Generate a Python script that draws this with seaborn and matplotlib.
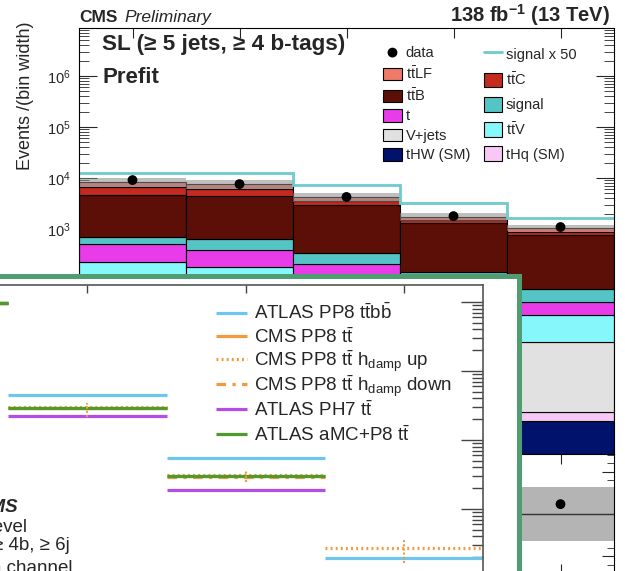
import numpy as np
import matplotlib
matplotlib.use("Agg")
import matplotlib.pyplot as plt
from matplotlib.ticker import MultipleLocator, LogLocator, NullFormatter
import seaborn as sns

# ---- CMS prefit stack, SL >= 5 jets, >= 4 b-tags (5 bins) ----
bin_edges = [0, 1, 2, 3, 4, 5]
tHW = [0.6, 0.6, 0.5, 0.3, 0.17]
tHq = [0.4, 0.4, 0.3, 0.2, 0.09]
vjets = [63, 59, 30, 13, 5.8]
ttV = [161, 120, 65, 30, 14.5]
single_t = [285, 207, 110, 40, 16.5]
signal = [187, 250, 132, 60, 29]
ttB = [3953, 3803, 2612, 1168, 694]
ttC = [2000, 1600, 650, 200, 100]
ttLF = [1800, 1500, 650, 230, 185]
data = [9100, 7600, 4250, 1790, 1094]
signal_x50 = [12300, 12600, 7300, 3240, 1660]
rel_unc = [0.2, 0.2, 0.2, 0.18, 0.13]

# ---- overlaid comparison panel (4 bins, log y) ----
in_edges = [0, 1, 2, 3, 4]
atlas_pp8_ttbb = [0.97, 0.0449, 0.00548, 0.000195]
cms_pp8_tt = [0.97, 0.0291, 0.0030, 7.0e-5]
cms_hdamp_up = [0.97, 0.0305, 0.00315, 0.000272]
cms_hdamp_down = [0.97, 0.0286, 0.00292, 6.6e-5]
atlas_ph7_tt = [0.97, 0.0223, 0.00188, 4.6e-5]
atlas_amc_tt = [0.97, 0.0291, 0.0030, 6.9e-5]
hdamp_up_err_lo = [0.0, 0.009, 0.00069, 0.000106]
hdamp_up_err_hi = [0.0, 0.004, 0.00052, 0.000109]

sns.set_theme(style="ticks")
plt.rcParams['font.family'] = ['Liberation Sans', 'DejaVu Sans']
plt.rcParams['mathtext.fontset'] = 'custom'
plt.rcParams['mathtext.rm'] = 'Liberation Sans'
plt.rcParams['mathtext.it'] = 'Liberation Sans:italic'
plt.rcParams['mathtext.bf'] = 'Liberation Sans:bold'

W, H = 625, 571
fig = plt.figure(figsize=(W / 100, H / 100), dpi=100)


def box(x0, y0, x1, y1):
    # pixel box (top-left origin) -> figure fraction rect
    return [x0 / W, 1 - y1 / H, (x1 - x0) / W, (y1 - y0) / H]


def fxy(x, y):
    return x / W, 1 - y / H


ax = fig.add_axes(box(79, 28, 614, 454))
rax = fig.add_axes(box(79, 454, 614, 574))

centers = np.arange(5) + 0.5
stack = [
    ("tHW (SM)", tHW, "#00126b"),
    ("tHq (SM)", tHq, "#f7c8f5"),
    ("V+jets", vjets, "#e1e1e1"),
    (r"$\mathrm{t\bar{t}V}$", ttV, "#86f7fa"),
    ("t", single_t, "#e83ce8"),
    ("signal", signal, "#55c4c4"),
    (r"$\mathrm{t\bar{t}B}$", ttB, "#5c0f06"),
    (r"$\mathrm{t\bar{t}C}$", ttC, "#c42a1e"),
    (r"$\mathrm{t\bar{t}LF}$", ttLF, "#ef7a6a"),
]
bottom = np.full(5, 1e-3)
hnd = {}
for name, vals, col in stack:
    vals = np.asarray(vals, float)
    hnd[name] = ax.bar(centers, vals, width=1.0, bottom=bottom, color=col,
                       edgecolor="black", linewidth=0.8)
    bottom = bottom + vals
total = bottom - 1e-3
unc = np.asarray(rel_unc)

ax.bar(centers, 2 * unc * total, bottom=total * (1 - unc), width=1.0,
       color="#8c8c8c", alpha=0.55, linewidth=0)
sig_h = ax.stairs(signal_x50, bin_edges, color="#6ccbcc", linewidth=2,
                  baseline=None, label="signal x 50")
ax.errorbar(centers, data, yerr=np.sqrt(data), fmt="none", ecolor="black", elinewidth=1)
sns.scatterplot(x=centers, y=data, ax=ax, color="black", s=50, edgecolor="none",
                zorder=5, legend=False)
data_h = ax.collections[-1]

ax.set_yscale("log")
ax.set_xlim(0, 5)
ax.set_ylim(0.039, 8.7e6)
ax.set_xticks(centers)
ax.set_xticklabels([])
ax.tick_params(axis="x", which="both", direction="in", top=True, bottom=True,
               length=7, width=0.8)
ax.yaxis.set_major_locator(LogLocator(base=10, numticks=20))
ax.yaxis.set_minor_locator(LogLocator(base=10, subs=np.arange(2, 10), numticks=20))
ax.yaxis.set_minor_formatter(NullFormatter())
ax.tick_params(axis="y", which="major", direction="in", left=True, right=True,
               length=13, width=0.8, labelsize=10.5, pad=6)
ax.tick_params(axis="y", which="minor", direction="in", left=True, right=True,
               length=7, width=0.6)
for s in ax.spines.values():
    s.set_color("black")
    s.set_linewidth(0.8)

leg1 = ax.legend(
    handles=[data_h, hnd[r"$\mathrm{t\bar{t}LF}$"], hnd[r"$\mathrm{t\bar{t}B}$"],
             hnd["t"], hnd["V+jets"], hnd["tHW (SM)"]],
    labels=["data", r"$\mathrm{t\bar{t}}$LF", r"$\mathrm{t\bar{t}}$B", "t",
            "V+jets", "tHW (SM)"],
    loc="upper left", bbox_to_anchor=fxy(383, 46), bbox_transform=fig.transFigure,
    frameon=False, fontsize=10.5, handlelength=1.3, handleheight=0.95,
    handletextpad=0.25, labelspacing=0.35, borderpad=0, borderaxespad=0)
ax.add_artist(leg1)
ax.legend(
    handles=[sig_h, hnd[r"$\mathrm{t\bar{t}C}$"], hnd["signal"],
             hnd[r"$\mathrm{t\bar{t}V}$"], hnd["tHq (SM)"]],
    labels=["signal x 50", r"$\mathrm{t\bar{t}}$C", "signal",
            r"$\mathrm{t\bar{t}}$V", "tHq (SM)"],
    loc="upper left", bbox_to_anchor=fxy(484, 47), bbox_transform=fig.transFigure,
    frameon=False, fontsize=10.5, handlelength=1.25, handleheight=1.2,
    handletextpad=0.25, labelspacing=0.6, borderpad=0, borderaxespad=0)

# ratio panel
ratio = np.asarray(data) / total
rax.bar(centers, 2 * unc, bottom=1 - unc, width=1.0, color="#b4b4b4", linewidth=0)
rax.axhline(1.0, color="#333333", linewidth=1)
sns.scatterplot(x=centers, y=ratio, ax=rax, color="black", s=50, edgecolor="none",
                zorder=5, legend=False)
rax.set_xlim(0, 5)
rax.set_ylim(0.715, 1.285)
rax.set_xticks(centers)
rax.set_xticklabels([])
rax.yaxis.set_major_locator(MultipleLocator(0.2))
rax.yaxis.set_minor_locator(MultipleLocator(0.04))
rax.tick_params(axis="x", direction="in", top=True, bottom=True, length=7, width=0.8)
rax.tick_params(axis="y", which="major", direction="in", left=True, right=True,
                length=9, width=0.8, labelsize=10)
rax.tick_params(axis="y", which="minor", direction="in", left=True, right=True,
                length=5, width=0.6)
for s in rax.spines.values():
    s.set_color("black")
    s.set_linewidth(0.8)

fig.text(*fxy(79, 22), "CMS", fontsize=12.5, fontweight="bold", va="baseline")
fig.text(*fxy(124, 22), "Preliminary", fontsize=12.5, fontstyle="italic", va="baseline")
fig.text(*fxy(610, 22), r"138 fb$^{\mathbf{-1}}$ (13 TeV)", fontsize=14.5,
         fontweight="bold", ha="right", va="baseline")
fig.text(*fxy(102, 50), "SL (≥ 5 jets, ≥ 4 b-tags)", fontsize=16.2,
         fontweight="bold", va="baseline")
fig.text(*fxy(102, 83), "Prefit", fontsize=16, fontweight="bold", va="baseline")
fig.text(*fxy(26, 22), "Events /(bin width)", fontsize=13, rotation=90,
         ha="center", va="top")

# green-framed overlay
frame = fig.add_axes(box(-60, 275.5, 519, 700), zorder=5)
frame.set_facecolor("white")
frame.set_xticks([])
frame.set_yticks([])
for s in frame.spines.values():
    s.set_color("#4e9e72")
    s.set_linewidth(3.6)

iax = fig.add_axes(box(-150, 285, 483, 650), zorder=6)
iax.patch.set_alpha(0)
lo = np.array(in_edges[:-1])
hi = np.array(in_edges[1:])
series = [
    (atlas_pp8_ttbb, "#6ec6ee", "-", r"ATLAS PP8 $\mathrm{t\bar{t}b\bar{b}}$"),
    (cms_pp8_tt, "#f39a3c", "-", r"CMS PP8 $\mathrm{t\bar{t}}$"),
    (cms_hdamp_up, "#f39a3c", (0, (0.6, 1.0)), r"CMS PP8 $\mathrm{t\bar{t}}$ h$_{\mathrm{damp}}$ up"),
    (cms_hdamp_down, "#f39a3c", (0, (3, 2, 1, 2)), r"CMS PP8 $\mathrm{t\bar{t}}$ h$_{\mathrm{damp}}$ down"),
    (atlas_ph7_tt, "#b44ce6", "-", r"ATLAS PH7 $\mathrm{t\bar{t}}$"),
    (atlas_amc_tt, "#4f9a2c", "-", r"ATLAS aMC+P8 $\mathrm{t\bar{t}}$"),
]
in_handles = []
for vals, col, ls, lab in series:
    in_handles.append(iax.hlines(vals, lo, hi, colors=col, linestyles=ls,
                                 linewidth=2.3, label=lab))
eb = iax.errorbar((lo + hi) / 2, cms_hdamp_up, yerr=[hdamp_up_err_lo, hdamp_up_err_hi],
                  fmt="none", ecolor="#f39a3c", elinewidth=1.5)
eb[2][0].set_linestyle((0, (1, 1)))
iax.set_yscale("log")
iax.set_xlim(0, 4)
iax.set_ylim(9.05e-6, 1.76)
iax.set_xticks((lo + hi) / 2)
iax.set_xticklabels([])
iax.tick_params(axis="x", direction="in", top=True, bottom=True, length=6, width=1,
                color="#444444")
iax.yaxis.set_major_locator(LogLocator(base=10, numticks=20))
iax.yaxis.set_minor_locator(LogLocator(base=10, subs=np.arange(2, 10), numticks=20))
iax.yaxis.set_minor_formatter(NullFormatter())
iax.tick_params(axis="y", which="major", direction="in", left=True, right=True,
                length=16, width=1, color="#444444")
iax.tick_params(axis="y", which="minor", direction="in", left=True, right=True,
                length=8, width=1, color="#444444")
for s in iax.spines.values():
    s.set_color("#555555")
    s.set_linewidth(1.2)

# one legend row per entry so the rows keep an even pitch
row_y = [313, 337, 361, 386, 410, 435]
for h, y in zip(in_handles, row_y):
    lg = iax.legend(handles=[h], loc="center left", bbox_to_anchor=fxy(216, y),
                    bbox_transform=fig.transFigure, frameon=False, fontsize=13.5,
                    handlelength=1.65, handletextpad=0.37, borderpad=0,
                    borderaxespad=0)
    iax.add_artist(lg)
iax.legend_ = None

tf = fig.transFigure
iax.text(*fxy(18, 512), "CMS", transform=tf, fontsize=13.5, fontweight="bold",
         fontstyle="italic", ha="right", va="baseline")
iax.text(*fxy(27, 532), "Particle level", transform=tf, fontsize=13.5,
         ha="right", va="baseline")
iax.text(*fxy(70, 550), "≥ 4b, ≥ 6j", transform=tf, fontsize=13.5,
         ha="right", va="baseline")
iax.text(*fxy(73, 573), "Single-lepton channel", transform=tf, fontsize=13.5,
         ha="right", va="baseline")

fig.savefig("out.png", dpi=100)
